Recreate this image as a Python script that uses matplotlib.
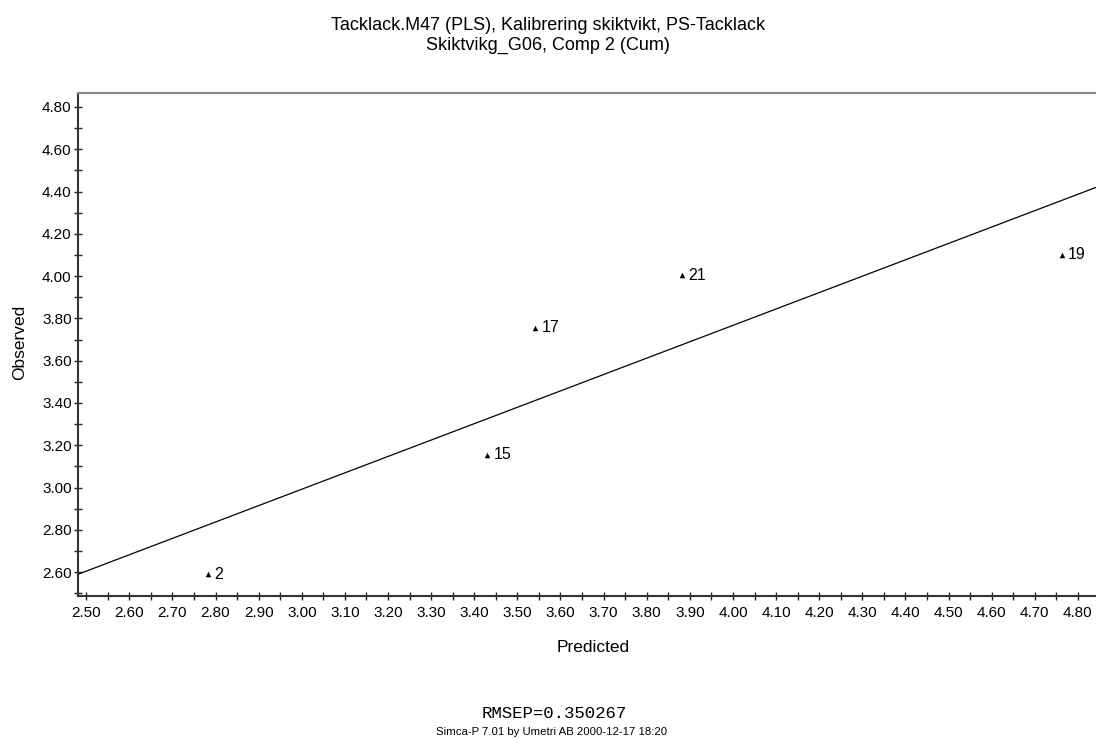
import matplotlib
matplotlib.use("Agg")
import matplotlib.pyplot as plt
from matplotlib.ticker import MultipleLocator, FormatStrFormatter
import numpy as np

plt.rcParams['font.family'] = ['Liberation Sans', 'DejaVu Sans']

# data
obs_ids = ["2", "15", "17", "21", "19"]
predicted = [2.783, 3.430, 3.541, 3.882, 4.763]
observed = [2.59, 3.155, 3.755, 4.005, 4.10]
line_slope = 0.775
line_intercept = 0.667
xlim = (2.481, 4.842)
ylim = (2.487, 4.866)

W, H = 1096, 740
fig = plt.figure(figsize=(W / 100, H / 100), dpi=100)
ax = fig.add_axes([78 / W, 1 - 596 / H, 1 - 78 / W, (596 - 93) / H])

xs = np.array(xlim)
ax.plot(xs, line_slope * xs + line_intercept, color='black', lw=0.9, zorder=2)
ax.scatter(predicted, observed, marker='^', s=16, color='black', zorder=3, linewidths=0)
for px, py, lab in zip(predicted, observed, obs_ids):
    ax.annotate(lab, (px, py), xytext=(4.5, 0), textcoords='offset points',
                va='center', ha='left', fontsize=11.5)

ax.set_xlim(*xlim)
ax.set_ylim(*ylim)
ax.xaxis.set_major_locator(MultipleLocator(0.1))
ax.xaxis.set_minor_locator(MultipleLocator(0.05))
ax.yaxis.set_major_locator(MultipleLocator(0.2))
ax.yaxis.set_minor_locator(MultipleLocator(0.1))
ax.xaxis.set_major_formatter(FormatStrFormatter('%.2f'))
ax.yaxis.set_major_formatter(FormatStrFormatter('%.2f'))
ax.tick_params(which='both', direction='inout', length=6, width=1, labelsize=11,
               colors='#222222', labelcolor='black', top=False, right=False)
ax.tick_params(axis='x', pad=4.5)
ax.tick_params(axis='y', pad=1.5)

for s in ['left', 'bottom']:
    ax.spines[s].set_linewidth(1.5)
    ax.spines[s].set_color('#333333')
ax.spines['top'].set_linewidth(1.5)
ax.spines['top'].set_color('#888888')
ax.spines['right'].set_visible(False)

ax.set_xlabel('Predicted', fontsize=12.5)
ax.xaxis.label.set_va('center')
ax.xaxis.set_label_coords((593 - 78) / (W - 78), -(647 - 596) / (596 - 93))
ax.set_ylabel('Observed', fontsize=12.5)
ax.yaxis.label.set_va('center')
ax.yaxis.set_label_coords(-(78 - 19.5) / (W - 78), (596 - 342) / (596 - 93))

fig.text(0.5, 1 - 26 / H, 'Tacklack.M47 (PLS), Kalibrering skiktvikt, PS-Tacklack',
         ha='center', va='center', fontsize=13)
fig.text(0.5, 1 - 45 / H, 'Skiktvikg_G06, Comp 2 (Cum)', ha='center', va='center', fontsize=13)
fig.text(554 / W, 1 - 714 / H, 'RMSEP=0.350267', ha='center', va='center', fontsize=12.5,
         family=['Liberation Mono', 'DejaVu Sans Mono'])
fig.text(552 / W, 1 - 732 / H, 'Simca-P 7.01 by Umetri AB 2000-12-17 18:20', ha='center',
         va='center', fontsize=8.2)

fig.savefig('out.png', dpi=100, facecolor='white')
